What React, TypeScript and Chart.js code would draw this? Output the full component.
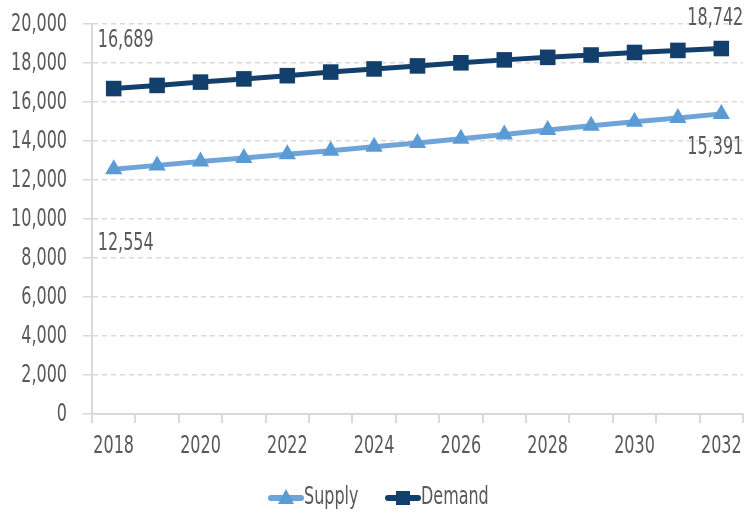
import React, { useEffect, useRef } from "react";
import { Chart, registerables } from "chart.js";

Chart.register(...registerables);

const years = ["2018","2019","2020","2021","2022","2023","2024","2025","2026","2027","2028","2029","2030","2031","2032"];
const supply = [12554, 12750, 12945, 13130, 13320, 13505, 13700, 13900, 14110, 14330, 14560, 14780, 14985, 15185, 15391];
const demand = [16689, 16850, 17020, 17185, 17350, 17535, 17695, 17850, 18010, 18160, 18290, 18410, 18540, 18645, 18742];
const yTicks = [0, 2000, 4000, 6000, 8000, 10000, 12000, 14000, 16000, 18000, 20000];
const xTickLabels = ["2018", "2020", "2022", "2024", "2026", "2028", "2030", "2032"];

const FONT_FAMILY = "'DejaVu Sans Condensed', 'DejaVu Sans', sans-serif";
const FONT = `condensed 24px ${FONT_FAMILY}`;
const SX = 0.74;
const TEXT = "#595959";
const GRID = "#d9d9d9";
const SUPPLY_LINE = "#6FA4D8";
const SUPPLY_POINT = "#5B9BD5";
const DEMAND = "#133F6C";

const fmt = (v: number) => v.toLocaleString("en-US");

function drawText(ctx: CanvasRenderingContext2D, text: string, x: number, y: number, align: CanvasTextAlign) {
  ctx.save();
  ctx.translate(x, y);
  ctx.scale(SX, 1);
  ctx.font = FONT;
  ctx.fillStyle = TEXT;
  ctx.textAlign = align;
  ctx.textBaseline = "middle";
  ctx.fillText(text, 0, 0);
  ctx.restore();
}

const textPlugin = {
  id: "texts",
  afterDraw(chart: any) {
    const ctx = chart.ctx;
    const yScale = chart.scales.y;
    const xScale = chart.scales.x;
    yTicks.forEach((v) => drawText(ctx, fmt(v), 67, yScale.getPixelForValue(v) + 1, "right"));
    xTickLabels.forEach((lab) => {
      const i = years.indexOf(lab);
      drawText(ctx, lab, xScale.getPixelForValue(i), 447, "center");
    });
    const specs = [
      { ds: 1, idx: 0, dx: 12, dy: -48 },
      { ds: 0, idx: 0, dx: 12, dy: 75 },
      { ds: 1, idx: years.length - 1, dx: -6, dy: -30 },
      { ds: 0, idx: years.length - 1, dx: -6, dy: 34 },
    ];
    specs.forEach((s) => {
      const el = chart.getDatasetMeta(s.ds).data[s.idx];
      const v = chart.data.datasets[s.ds].data[s.idx];
      drawText(ctx, fmt(v), el.x + s.dx, el.y + s.dy, "center");
    });
    const items = [
      { ds: 0, line: SUPPLY_LINE, point: SUPPLY_POINT, style: "triangle", x: 268 },
      { ds: 1, line: DEMAND, point: DEMAND, style: "rect", x: 385 },
    ];
    const y = 498;
    items.forEach((it) => {
      ctx.save();
      ctx.strokeStyle = it.line;
      ctx.lineWidth = 6;
      ctx.lineCap = "round";
      ctx.beginPath();
      ctx.moveTo(it.x + 3, y);
      ctx.lineTo(it.x + 33, y);
      ctx.stroke();
      ctx.fillStyle = it.point;
      if (it.style === "triangle") {
        ctx.beginPath();
        ctx.moveTo(it.x + 18, y - 9);
        ctx.lineTo(it.x + 26, y + 6);
        ctx.lineTo(it.x + 10, y + 6);
        ctx.closePath();
        ctx.fill();
      } else {
        ctx.fillRect(it.x + 11, y - 7, 14, 14);
      }
      ctx.restore();
      drawText(ctx, chart.data.datasets[it.ds].label, it.x + 36, y, "left");
    });
  },
};

export default function App() {
  const ref = useRef<HTMLCanvasElement>(null);
  useEffect(() => {
    document.body.style.margin = "0";
    const chart = new Chart(ref.current!, {
      type: "line",
      data: {
        labels: years,
        datasets: [
          {
            label: "Supply",
            data: supply,
            borderColor: SUPPLY_LINE,
            backgroundColor: SUPPLY_POINT,
            pointBackgroundColor: SUPPLY_POINT,
            pointBorderColor: SUPPLY_POINT,
            pointStyle: "triangle",
            pointRadius: 10,
            pointBorderWidth: 0,
            borderWidth: 5,
            tension: 0,
          },
          {
            label: "Demand",
            data: demand,
            borderColor: DEMAND,
            backgroundColor: DEMAND,
            pointBackgroundColor: DEMAND,
            pointBorderColor: DEMAND,
            pointStyle: "rect",
            pointRadius: 11,
            pointBorderWidth: 0,
            borderWidth: 5,
            tension: 0,
          },
        ],
      },
      options: {
        responsive: false,
        animation: false,
        layout: { autoPadding: false, padding: { top: 24, right: 2, bottom: 50, left: 0 } },
        plugins: {
          legend: { display: false },
          tooltip: { enabled: false },
        },
        scales: {
          x: {
            offset: true,
            afterFit: (axis: any) => { axis.height = 50; },
            grid: { display: true, drawOnChartArea: false, drawTicks: true, offset: true, tickLength: 9, color: GRID, lineWidth: 2 },
            border: { color: GRID, width: 2 },
            ticks: {
              autoSkip: false,
              maxRotation: 0,
              color: "rgba(0,0,0,0)",
              font: { family: FONT_FAMILY, size: 1 },
              callback: (v: any, i: number) => (i % 2 === 0 ? years[i] : ""),
            },
          },
          y: {
            min: 0,
            max: 20000,
            afterFit: (axis: any) => { axis.width = 92; },
            afterBuildTicks: (axis: any) => {
              axis.ticks = yTicks.map((v) => ({ value: v }));
            },
            grid: {
              color: GRID,
              lineWidth: 1.5,
              tickLength: 9,
              drawTicks: true,
            },
            border: { color: GRID, width: 2, dash: [5, 4] },
            ticks: {
              color: "rgba(0,0,0,0)",
              font: { family: FONT_FAMILY, size: 1 },
              callback: (v: any) => fmt(Number(v)),
            },
          },
        },
      },
      plugins: [textPlugin],
    });
    return () => chart.destroy();
  }, []);
  return (
    <div style={{ position: "absolute", left: 0, top: 0, width: 745, height: 514 }}>
      <canvas ref={ref} width={745} height={514} />
    </div>
  );
}
